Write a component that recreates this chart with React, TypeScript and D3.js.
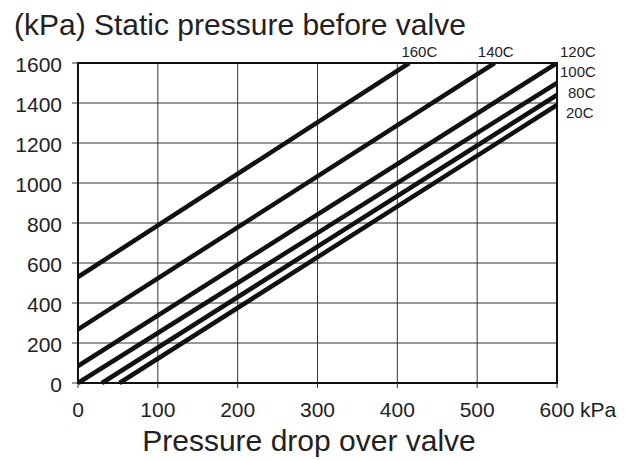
import React from "react";
import * as d3 from "d3";

const series = ["160C", "140C", "120C", "100C", "80C", "20C"];
const startDrop = [0, 0, 0, 0, 30, 52];
const startPressure = [530, 268, 85, 0, 0, 0];
const endDrop = [415, 522, 600, 600, 600, 600];
const endPressure = [1600, 1600, 1600, 1500, 1440, 1390];
const xTicks = [0, 100, 200, 300, 400, 500, 600];
const yTicks = [0, 200, 400, 600, 800, 1000, 1200, 1400, 1600];

const W = 638;
const H = 460;
const FONT = "'Liberation Sans', Arial, Helvetica, sans-serif";

// label offsets (px) relative to each line's end point
const labelOffsets: Record<string, [number, number, string]> = {
  "160C": [10, -6, "middle"],
  "140C": [1, -6, "middle"],
  "120C": [3, -6, "start"],
  "100C": [3, -6, "start"],
  "80C": [11, 3, "start"],
  "20C": [9, 12.5, "start"],
};

export default function App() {
  const x = d3.scaleLinear().domain([0, 600]).range([78, 557]);
  const y = d3.scaleLinear().domain([0, 1600]).range([383, 63]);
  const line = d3
    .line<[number, number]>()
    .x((d) => x(d[0]))
    .y((d) => y(d[1]));

  return (
    <svg
      width={W}
      height={H}
      style={{ position: "absolute", left: 0, top: 0, background: "#fff" }}
      fontFamily={FONT}
    >
      <defs>
        <clipPath id="plot">
          <rect x={x(0)} y={y(1600)} width={x(600) - x(0)} height={y(0) - y(1600) + 3} />
        </clipPath>
      </defs>
      {yTicks.map((t) => (
        <line key={"gy" + t} x1={x(0) - 6} x2={x(600)} y1={y(t)} y2={y(t)} stroke="#333" strokeWidth={1} />
      ))}
      {xTicks.map((t) => (
        <line key={"gx" + t} x1={x(t)} x2={x(t)} y1={y(1600)} y2={y(0) + 5} stroke="#333" strokeWidth={1} />
      ))}
      <rect
        x={x(0)}
        y={y(1600)}
        width={x(600) - x(0)}
        height={y(0) - y(1600)}
        fill="none"
        stroke="#111"
        strokeWidth={2}
      />
      <g clipPath="url(#plot)">
        {series.map((s, i) => (
          <path
            key={s}
            d={line([
              [startDrop[i], startPressure[i]],
              [endDrop[i], endPressure[i]],
            ]) as string}
            fill="none"
            stroke="#111"
            strokeWidth={4.5}
          />
        ))}
      </g>
      {yTicks.map((t) => (
        <text key={"ly" + t} x={62} y={y(t)} dy="0.45em" textAnchor="end" fontSize={21} fill="#222">
          {t}
        </text>
      ))}
      {xTicks.map((t) => (
        <text key={"lx" + t} x={x(t)} y={417} textAnchor="middle" fontSize={21} fill="#222">
          {t}
        </text>
      ))}
      <text x={x(600) + 23} y={417} textAnchor="start" fontSize={21} fill="#222">
        kPa
      </text>
      {series.map((s, i) => {
        const o = labelOffsets[s];
        return (
          <text
            key={"sl" + s}
            x={x(endDrop[i]) + o[0]}
            y={y(endPressure[i]) + o[1]}
            textAnchor={o[2] as any}
            fontSize={15}
            fill="#222"
          >
            {s}
          </text>
        );
      })}
      <text x={14} y={35} fontSize={30} fill="#222">
        (kPa) Static pressure before valve
      </text>
      <text x={309} y={451} textAnchor="middle" fontSize={30} fill="#222">
        Pressure drop over valve
      </text>
    </svg>
  );
}
